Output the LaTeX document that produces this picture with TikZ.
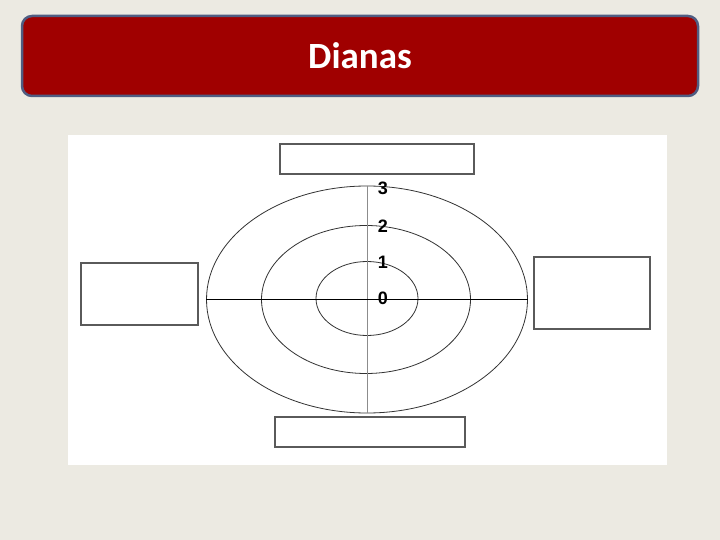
\documentclass[tikz,border=0pt]{standalone}
\usepackage{fontspec}
\setmainfont{Liberation Sans}
\newfontfamily\titlefont{Carlito}
\usetikzlibrary{shapes.geometric}
\definecolor{slidebg}{HTML}{ECEAE2}
\definecolor{titlered}{HTML}{A00000}
\definecolor{titleedge}{HTML}{4F5D82}
\definecolor{boxedge}{HTML}{5A5A5A}

\begin{document}
\begin{tikzpicture}[x=1pt,y=-1pt,
  titlebox/.style={draw=titleedge,line width=2.5pt,fill=titlered,rounded corners=10pt,
    minimum width=676pt,minimum height=80pt,text=white,font=\titlefont\bfseries\fontsize{37}{40}\selectfont},
  emptybox/.style={draw=boxedge,line width=1.2pt,fill=white,inner sep=0pt},
  ring/.style={ellipse,draw=black!80,line width=0.8pt,inner sep=0pt},
  level/.style={font=\bfseries\fontsize{18}{18}\selectfont,inner sep=0pt}]
  \fill[slidebg] (0,0) rectangle (720,540);
  \useasboundingbox (0,0) rectangle (720,540);
  \node[titlebox] (title) at (360,56) {Dianas};
  \fill[white] (68,135) rectangle (667,465);

  \node[emptybox,minimum width=194pt,minimum height=30pt] (top) at (377,159) {};
  \node[emptybox,minimum width=117pt,minimum height=62pt] (left) at (139.5,294) {};
  \node[emptybox,minimum width=116pt,minimum height=72pt] (right) at (592,293) {};
  \node[emptybox,minimum width=190pt,minimum height=30pt] (bottom) at (370,432) {};

  \node[ring,minimum width=321pt,minimum height=227pt] (outer) at (367,299.5) {};
  \node[ring,minimum width=209pt,minimum height=148pt] (middle) at (366,299.5) {};
  \node[ring,minimum width=102pt,minimum height=74pt] (inner) at (367,298.5) {};

  \draw[black!45,line width=0.8pt] (outer.north) -- (outer.south);
  \draw[black,line width=0.8pt] (outer.west) -- (outer.east);

  \node[level] (n3) at (383,188) {3};
  \node[level] (n2) at (383,226) {2};
  \node[level] (n1) at (383,262) {1};
  \node[level] (n0) at (383,298) {0};
\end{tikzpicture}
\end{document}
